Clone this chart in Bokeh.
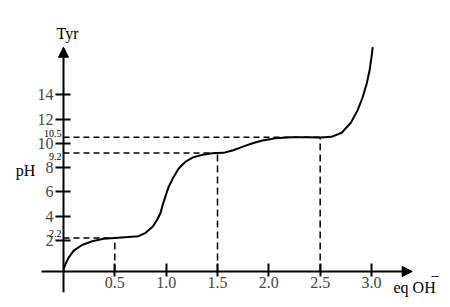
from bokeh.plotting import figure
from bokeh.models import LinearAxis, FixedTicker, Arrow, NormalHead
from bokeh.core.properties import value
from bokeh.embed import file_html
from bokeh.resources import INLINE

# ---- data ----
eq_oh = [0.0, 0.02, 0.05, 0.10, 0.18, 0.28, 0.39, 0.5, 0.63, 0.73, 0.80, 0.87,
         0.915, 0.946, 0.962, 0.993, 1.025, 1.073, 1.12, 1.182, 1.261, 1.356,
         1.45, 1.5, 1.56, 1.653, 1.748, 1.842, 1.937, 2.063, 2.22, 2.38, 2.5,
         2.61, 2.71, 2.80, 2.865, 2.912, 2.953, 2.981, 3.0, 3.012]
ph = [-0.4, 0.08, 0.59, 1.17, 1.63, 1.94, 2.15, 2.2, 2.28, 2.36, 2.63, 3.15,
      3.75, 4.29, 4.83, 5.64, 6.44, 7.24, 7.91, 8.45, 8.85, 9.06,
      9.18, 9.2, 9.22, 9.44, 9.73, 10.01, 10.24, 10.42, 10.5, 10.5, 10.48,
      10.54, 10.88, 11.72, 12.74, 13.76, 14.91, 16.0, 17.1, 17.92]

x_ticks = [0.5, 1.0, 1.5, 2.0, 2.5, 3.0]
x_tick_labels = ["0.5", "1.0", "1.5", "2.0", "2.5", "3.0"]
y_ticks = [2, 4, 6, 8, 10, 12, 14]
y_tick_labels = ["2", "4", "6", "8", "10", "12", "14"]

eq_points = [0.5, 1.5, 2.5]
pk_values = [2.2, 9.2, 10.5]
pk_labels = ["2.2", "9.2", "10.5"]

x_title = "eq OH"
y_title = "pH"
top_title = "Tyr"

# ---- layout constants ----
X_AXIS_Y = -0.55
FONT = "'Liberation Serif', 'Times New Roman', serif"

p = figure(width=450, height=307, x_range=(-0.6136, 3.7694), y_range=(-3.517, 21.77),
           output_backend="svg", toolbar_location=None, x_axis_type=None,
           y_axis_type=None, min_border=0, outline_line_color=None)
p.xgrid.visible = False
p.ygrid.visible = False

# dashed guide lines
p.segment(x0=[0] * len(eq_points), y0=pk_values, x1=eq_points, y1=pk_values,
          line_color="black", line_width=1.5, line_dash="6 4")
p.segment(x0=eq_points, y0=[X_AXIS_Y] * len(eq_points), x1=eq_points, y1=pk_values,
          line_color="black", line_width=1.5, line_dash="7 4")

# titration curve
p.line(eq_oh, ph, line_color="black", line_width=2, line_join="round")

# axis arrows
p.add_layout(Arrow(end=NormalHead(size=10, fill_color="black", line_color="black"),
                   x_start=-0.214, y_start=X_AXIS_Y, x_end=3.396, y_end=X_AXIS_Y,
                   line_width=2, line_color="black"))
p.add_layout(Arrow(end=NormalHead(size=10, fill_color="black", line_color="black"),
                   x_start=0, y_start=-2.257, x_end=0, y_end=17.92,
                   line_width=2, line_color="black"))

xa = LinearAxis(fixed_location=X_AXIS_Y, ticker=FixedTicker(ticks=x_ticks),
                major_label_overrides=dict(zip(x_ticks, x_tick_labels)),
                axis_line_color=None, major_tick_in=8, major_tick_out=5,
                major_tick_line_width=2, minor_tick_line_color=None,
                major_label_text_font=FONT, major_label_text_font_size="16px",
                major_label_standoff=1)
p.add_layout(xa, "below")

ya = LinearAxis(fixed_location=0, ticker=FixedTicker(ticks=y_ticks),
                major_label_overrides=dict(zip(y_ticks, y_tick_labels)),
                axis_line_color=None, major_tick_in=7, major_tick_out=8,
                major_tick_line_width=2, minor_tick_line_color=None,
                major_label_text_font=FONT, major_label_text_font_size="16px",
                major_label_standoff=2)
p.add_layout(ya, "left")

# small value labels beside the y axis
baselines = ["bottom", "top", "bottom"]
offsets = [-1, 0, 0]
for v, lab, bl, dy in zip(pk_values, pk_labels, baselines, offsets):
    p.text(x=[0], y=[v], text=[lab], text_align="right", text_baseline=bl,
           x_offset=-2, y_offset=dy, text_font=value(FONT), text_font_size="10px",
           text_color="black")

p.text(x=[-0.37], y=[7.77], text=[y_title], text_align="center",
       text_baseline="middle", text_font=value(FONT), text_font_size="16px",
       text_color="black")
p.text(x=[0.04], y=[19.05], text=[top_title], text_align="center",
       text_baseline="middle", text_font=value(FONT), text_font_size="16px",
       text_color="black")
p.text(x=[3.214], y=[-1.87], text=[x_title], text_align="left",
       text_baseline="middle", text_font=value(FONT), text_font_size="16px",
       text_color="black")
p.text(x=[3.575], y=[-0.96], text=["\u2212"], text_align="left",
       text_baseline="middle", text_font=value(FONT), text_font_size="16px",
       text_color="black")

open("out.html", "w").write(file_html(p, INLINE))
